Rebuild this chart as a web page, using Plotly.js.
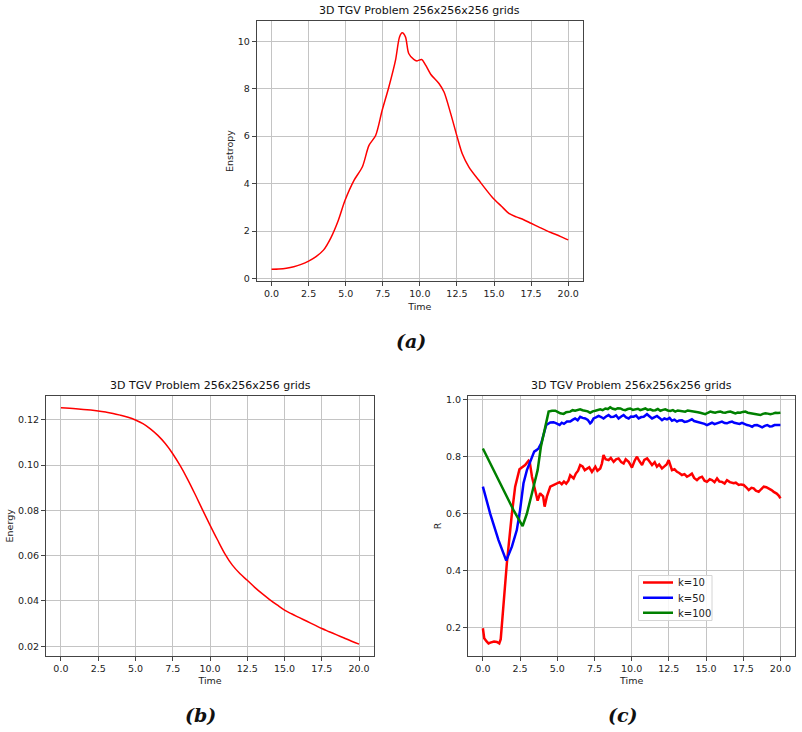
<!DOCTYPE html>
<html>
<head>
<meta charset="utf-8">
<script src="https://cdn.plot.ly/plotly-3.0.1.min.js"></script>
<style>html,body{margin:0;padding:0;background:#fff;}#chart{width:802px;height:732px;}</style>
</head>
<body>
<div id="chart"></div>
<script>
// ---------- data ----------
const chartTitle = "3D TGV Problem 256x256x256 grids";
const xLabel = "Time";
const yLabelA = "Enstropy";
const yLabelB = "Energy";
const yLabelC = "R";
const panelLabels = ["(a)", "(b)", "(c)"];
const seriesNames = ["k=10", "k=50", "k=100"];

// (a) enstrophy
const entT = [0,0.5,1,1.5,2,2.5,3,3.5,4,4.5,4.95,5.56,6.12,6.57,7.02,7.46,7.91,8.36,8.63,8.81,9.03,9.25,9.59,9.81,10.12,10.39,10.73,11.29,11.63,12.08,12.52,12.86,13.31,13.98,14.88,15.5,16,16.5,17,17.5,18,18.5,19,19.5,20];
const ent  = [0.4,0.41,0.44,0.5,0.6,0.74,0.93,1.2,1.72,2.45,3.29,4.14,4.7,5.61,6.03,7.09,8.07,9.2,10.18,10.35,10.18,9.48,9.23,9.17,9.23,8.99,8.61,8.22,7.86,6.95,5.96,5.26,4.7,4.14,3.43,3.05,2.75,2.6,2.48,2.33,2.18,2.03,1.9,1.77,1.63];

// (b) energy
const enT = [0,1,2,2.5,3,3.5,4,4.5,5,5.5,6,6.5,7,7.5,8,8.5,9,9.5,10,10.5,11,11.5,12,12.5,13,13.5,14,14.5,15,15.5,16,16.5,17,17.5,18,18.5,19,19.5,20];
const en  = [0.1253,0.1249,0.1243,0.1239,0.1234,0.1228,0.122,0.1211,0.1199,0.1183,0.116,0.1131,0.1095,0.105,0.0997,0.0937,0.0871,0.0802,0.0735,0.067,0.0608,0.0558,0.0521,0.0491,0.046,0.0432,0.0406,0.0382,0.0359,0.0342,0.0326,0.031,0.0294,0.0278,0.0264,0.025,0.0236,0.0222,0.0209];

// (c) R for k=10
const redT = [0,0.09,0.25,0.38,0.5,0.6,0.75,0.94,1.1,1.2,
  1.26,1.39,1.61,1.95,2.17,2.46,2.65,2.84,3.07,3.15,
  3.3,3.52,3.68,3.78,3.85,3.95,4.05,4.15,4.3,4.53,
  4.75,4.98,5.15,5.3,5.45,5.6,5.75,5.87,6.0,6.1,
  6.25,6.4,6.54,6.7,6.85,6.99,7.15,7.33,7.45,7.56,
  7.7,7.89,8.0,8.11,8.25,8.45,8.6,8.79,8.95,9.12,
  9.3,9.46,9.6,9.8,9.9,10.02,10.2,10.36,10.5,10.7,
  10.85,11.04,11.2,11.37,11.55,11.7,11.85,12.04,12.2,12.35,
  12.49,12.6,12.71,12.88,13.05,13.2,13.38,13.55,13.72,13.9,
  14.05,14.2,14.39,14.55,14.73,14.9,15.06,15.25,15.4,15.57,
  15.74,15.9,16.07,16.25,16.41,16.6,16.86,17.0,17.2,17.35,
  17.53,17.7,17.87,18.05,18.2,18.35,18.54,18.7,18.88,19.05,
  19.21,19.4,19.55,19.75,19.9,20.0];
const redR = [0.198,0.163,0.152,0.145,0.148,0.15,0.152,0.15,0.145,0.16,
  0.2,0.308,0.425,0.6,0.694,0.755,0.762,0.77,0.785,0.78,
  0.729,0.682,0.645,0.66,0.671,0.665,0.66,0.624,0.659,0.694,
  0.7,0.706,0.71,0.703,0.712,0.705,0.715,0.734,0.728,0.723,
  0.74,0.75,0.77,0.765,0.752,0.758,0.762,0.746,0.755,0.764,
  0.75,0.758,0.775,0.805,0.79,0.787,0.795,0.781,0.79,0.793,
  0.78,0.775,0.79,0.781,0.772,0.761,0.785,0.799,0.785,0.77,
  0.788,0.793,0.782,0.77,0.78,0.764,0.772,0.758,0.765,0.772,
  0.787,0.77,0.752,0.755,0.746,0.742,0.735,0.738,0.729,0.734,
  0.74,0.725,0.717,0.725,0.729,0.715,0.711,0.72,0.717,0.71,
  0.723,0.712,0.711,0.705,0.717,0.71,0.706,0.708,0.7,0.702,
  0.7,0.692,0.682,0.69,0.688,0.68,0.676,0.685,0.694,0.692,
  0.688,0.682,0.676,0.67,0.662,0.653];

// (c) R for k=50
const blueT = [0,0.49,1.05,1.57,1.95,2.28,2.5,2.73,2.96,3.18,
  3.45,3.6,3.74,3.92,4.08,4.26,4.53,4.75,4.98,5.16,
  5.3,5.45,5.65,5.87,6.03,6.2,6.37,6.54,6.7,6.88,
  7.05,7.21,7.3,7.44,7.6,7.78,7.95,8.11,8.28,8.45,
  8.6,8.78,8.95,9.12,9.3,9.46,9.63,9.8,9.95,10.13,
  10.3,10.47,10.65,10.81,11.03,11.2,11.37,11.55,11.7,11.87,
  12.04,12.2,12.38,12.55,12.71,12.88,13.05,13.2,13.38,13.55,
  13.72,13.9,14.05,14.2,14.39,14.55,14.73,14.9,15.06,15.22,
  15.4,15.57,15.74,15.9,16.07,16.25,16.41,16.58,16.75,16.9,
  17.08,17.25,17.42,17.6,17.76,17.93,18.1,18.25,18.43,18.6,
  18.77,18.95,19.11,19.28,19.44,19.6,19.8,20.0];
const blueR = [0.694,0.6,0.507,0.435,0.484,0.542,0.612,0.706,0.752,0.781,
  0.817,0.822,0.828,0.846,0.881,0.91,0.919,0.92,0.915,0.91,
  0.918,0.914,0.922,0.922,0.928,0.933,0.927,0.939,0.935,0.933,
  0.928,0.916,0.92,0.933,0.937,0.942,0.938,0.933,0.94,0.945,
  0.938,0.939,0.944,0.933,0.94,0.945,0.937,0.933,0.94,0.939,
  0.943,0.933,0.938,0.939,0.948,0.94,0.933,0.938,0.942,0.935,
  0.927,0.933,0.93,0.935,0.925,0.929,0.922,0.926,0.927,0.921,
  0.922,0.926,0.93,0.924,0.922,0.918,0.918,0.914,0.91,0.915,
  0.918,0.913,0.916,0.92,0.922,0.917,0.916,0.92,0.922,0.918,
  0.916,0.914,0.918,0.913,0.91,0.908,0.904,0.909,0.91,0.906,
  0.902,0.907,0.91,0.905,0.906,0.91,0.909,0.91];

// (c) R for k=100
const greenT = [0,0.72,1.39,2.06,2.67,2.96,3.3,3.68,3.9,4.19,
  4.42,4.65,4.87,5.05,5.2,5.43,5.6,5.87,6.03,6.2,
  6.37,6.54,6.7,6.88,7.05,7.21,7.38,7.56,7.72,7.89,
  8.05,8.23,8.4,8.56,8.73,8.9,9.07,9.24,9.4,9.57,
  9.74,9.91,10.08,10.25,10.42,10.58,10.75,10.92,11.08,11.25,
  11.42,11.59,11.76,11.93,12.1,12.26,12.43,12.6,12.77,12.93,
  13.1,13.27,13.44,13.6,13.77,13.94,14.1,14.28,14.45,14.61,
  14.78,14.95,15.12,15.29,15.45,15.62,15.79,15.96,16.13,16.3,
  16.46,16.63,16.8,16.97,17.13,17.3,17.47,17.64,17.81,17.98,
  18.15,18.31,18.48,18.65,18.82,18.99,19.15,19.32,19.49,19.66,
  19.83,20.0];
const greenR = [0.828,0.752,0.682,0.612,0.556,0.6,0.671,0.752,0.834,0.904,
  0.957,0.96,0.96,0.955,0.951,0.949,0.955,0.957,0.962,0.96,
  0.963,0.965,0.962,0.96,0.958,0.953,0.958,0.96,0.963,0.965,
  0.962,0.968,0.966,0.972,0.967,0.965,0.969,0.968,0.964,0.962,
  0.966,0.968,0.963,0.965,0.967,0.962,0.966,0.968,0.963,0.965,
  0.961,0.962,0.966,0.96,0.963,0.965,0.961,0.959,0.962,0.957,
  0.961,0.96,0.958,0.957,0.961,0.96,0.957,0.957,0.955,0.953,
  0.951,0.948,0.953,0.957,0.955,0.953,0.956,0.957,0.954,0.953,
  0.956,0.957,0.954,0.951,0.954,0.953,0.956,0.957,0.953,0.951,
  0.95,0.948,0.947,0.945,0.949,0.951,0.95,0.948,0.95,0.953,
  0.952,0.953];

// ---------- figure ----------
const W = 802, H = 732;
const px = v => v / W;
const py = v => 1 - v / H;

const tickFont = {family: "DejaVu Sans", size: 9.5, color: "#222"};
const labFont = {family: "DejaVu Sans", size: 9.5, color: "#222"};

function axis(extra) {
  return Object.assign({
    showline: true, mirror: true, linecolor: "#444", linewidth: 1,
    ticks: "outside", ticklen: 4, tickwidth: 1, tickcolor: "#444",
    showgrid: true, gridcolor: "#c4c4c4", gridwidth: 1,
    zeroline: false, tickfont: tickFont, fixedrange: true
  }, extra);
}
const xCommon = {range: [-1, 21], tick0: 0, dtick: 2.5, tickformat: ".1f"};

const traces = [
  {x: entT, y: ent, xaxis: "x", yaxis: "y", mode: "lines",
   line: {color: "#ff0000", width: 1.5, shape: "spline", smoothing: 0.8}, showlegend: false},
  {x: enT, y: en, xaxis: "x2", yaxis: "y2", mode: "lines",
   line: {color: "#ff0000", width: 1.5, shape: "spline", smoothing: 1}, showlegend: false},
  {x: redT, y: redR, xaxis: "x3", yaxis: "y3", mode: "lines", name: seriesNames[0],
   line: {color: "#ff0000", width: 2.5}, legend: "legend"},
  {x: blueT, y: blueR, xaxis: "x3", yaxis: "y3", mode: "lines", name: seriesNames[1],
   line: {color: "#0000ff", width: 2.5}, legend: "legend2"},
  {x: greenT, y: greenR, xaxis: "x3", yaxis: "y3", mode: "lines", name: seriesNames[2],
   line: {color: "#008000", width: 2.5}, legend: "legend3"}
];

const legFont = {family: "DejaVu Sans", size: 10, color: "#222"};
function leg(yc) {
  return {x: px(638), y: py(yc), xanchor: "left", yanchor: "middle",
    bgcolor: "rgba(0,0,0,0)", borderwidth: 0, font: legFont, itemwidth: 30};
}

const layout = {
  width: W, height: H,
  margin: {l: 0, r: 0, t: 0, b: 0},
  paper_bgcolor: "#fff", plot_bgcolor: "#fff",
  font: {family: "DejaVu Sans", color: "#222"},
  xaxis: axis(Object.assign({domain: [px(256.7), px(583)], anchor: "y",
    title: {text: xLabel, font: labFont, standoff: 4}}, xCommon)),
  yaxis: axis({domain: [py(281), py(21)], anchor: "x", range: [-0.1, 10.85], dtick: 2, tick0: 0,
    title: {text: yLabelA, font: labFont, standoff: 2}}),
  xaxis2: axis(Object.assign({domain: [px(46), px(374)], anchor: "y2",
    title: {text: xLabel, font: labFont, standoff: 4}}, xCommon)),
  yaxis2: axis({domain: [py(655.7), py(396)], anchor: "x2", range: [0.0158, 0.1305], dtick: 0.02, tick0: 0,
    tickformat: ".2f", title: {text: yLabelB, font: labFont, standoff: 2}}),
  xaxis3: axis(Object.assign({domain: [px(468), px(795.3)], anchor: "y3",
    title: {text: xLabel, font: labFont, standoff: 4}}, xCommon)),
  yaxis3: axis({domain: [py(655.7), py(396)], anchor: "x3", range: [0.102, 1.0117], dtick: 0.2, tick0: 0,
    tickformat: ".1f", title: {text: yLabelC, font: labFont, standoff: 2}}),
  showlegend: true,
  legend: leg(582.5),
  legend2: leg(597.7),
  legend3: leg(612.7),
  shapes: [
    {type: "rect", xref: "paper", yref: "paper", x0: px(638.5), x1: px(712), y0: py(575.5), y1: py(620.5),
     line: {color: "#d4d4d4", width: 1}, fillcolor: "rgba(255,255,255,0.85)", layer: "above"}
  ],
  annotations: [
    {text: chartTitle, x: px(419.9), y: py(11), xref: "paper", yref: "paper",
     showarrow: false, xanchor: "center", yanchor: "middle", font: {family: "DejaVu Sans", size: 11, color: "#111"}},
    {text: chartTitle, x: px(210), y: py(385), xref: "paper", yref: "paper",
     showarrow: false, xanchor: "center", yanchor: "middle", font: {family: "DejaVu Sans", size: 11, color: "#111"}},
    {text: chartTitle, x: px(631.7), y: py(385), xref: "paper", yref: "paper",
     showarrow: false, xanchor: "center", yanchor: "middle", font: {family: "DejaVu Sans", size: 11, color: "#111"}},
    {text: panelLabels[0], x: px(411.3), y: py(341), xref: "paper", yref: "paper",
     showarrow: false, xanchor: "center", yanchor: "middle",
     font: {family: "DejaVu Serif", size: 19, color: "#111", weight: "bold", style: "italic"}},
    {text: panelLabels[1], x: px(200.8), y: py(715), xref: "paper", yref: "paper",
     showarrow: false, xanchor: "center", yanchor: "middle",
     font: {family: "DejaVu Serif", size: 19, color: "#111", weight: "bold", style: "italic"}},
    {text: panelLabels[2], x: px(622.5), y: py(715), xref: "paper", yref: "paper",
     showarrow: false, xanchor: "center", yanchor: "middle",
     font: {family: "DejaVu Serif", size: 19, color: "#111", weight: "bold", style: "italic"}}
  ]
};

Plotly.newPlot("chart", traces, layout, {staticPlot: true, displayModeBar: false});
</script>
</body>
</html>
